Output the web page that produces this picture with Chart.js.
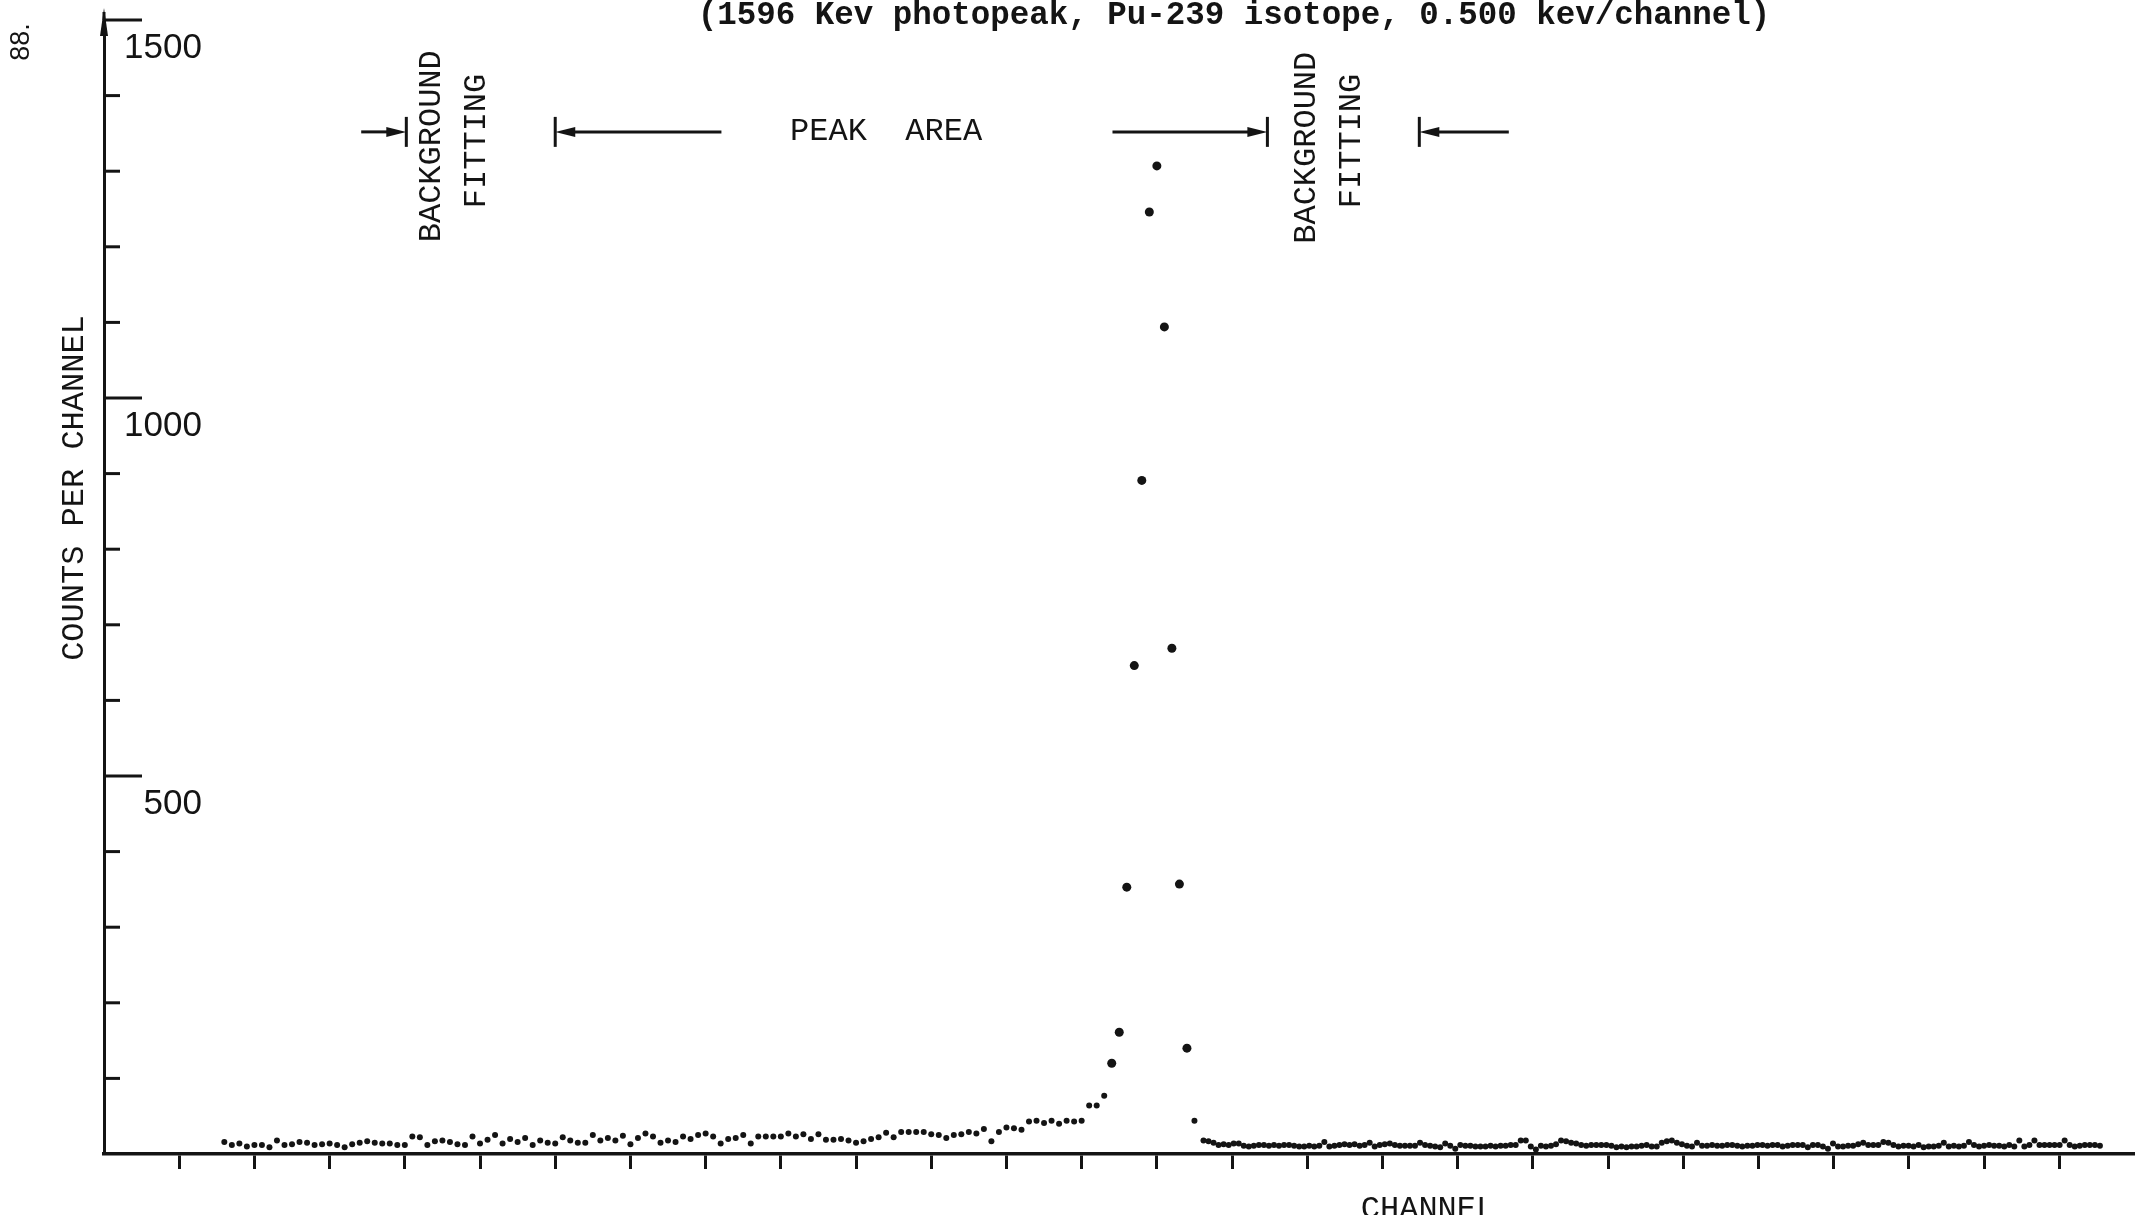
<!DOCTYPE html>
<html>
<head>
<meta charset="utf-8">
<script src="https://cdn.jsdelivr.net/npm/chart.js@4.4.1/dist/chart.umd.min.js"></script>
<style>
  html, body { margin: 0; padding: 0; background: #ffffff; overflow: hidden; }
  canvas { display: block; }
</style>
</head>
<body>
<canvas id="spectrum" width="2139" height="1215"></canvas>
<script>
// ---- Pu-239 1596 keV photopeak, counts per channel ----

// Channels 16..145, one point per channel (baseline and photopeak)
const lowFirstChannel = 16;
const lowCounts = [
  16, 12, 14, 10, 12, 12, 9, 18, 12, 13,
  16, 15, 12, 13, 14, 12, 9, 13, 15, 17,
  15, 14, 14, 12, 12, 23, 22, 12, 17, 18,
  16, 13, 12, 23, 14, 19, 25, 14, 20, 16,
  21, 12, 18, 15, 14, 22, 18, 15, 15, 25,
  18, 21, 18, 24, 13, 21, 27, 23, 15, 18,
  16, 23, 20, 25, 27, 23, 14, 20, 21, 25,
  14, 23, 23, 23, 23, 27, 23, 26, 20, 26,
  19, 19, 20, 18, 15, 17, 20, 22, 28, 22,
  29, 29, 29, 29, 26, 25, 21, 25, 26, 29,
  27, 33, 17, 29, 35, 34, 32, 43, 44, 41,
  44, 40, 44, 43, 44, 64, 64, 77, 120, 161,
  353, 646, 891, 1246, 1307, 1094, 669, 357, 140, 44
];

// Baseline beyond the peak, plotted at a tighter spacing
const highFirstChannel = 146.2;
const highLastChannel = 265.4;
const highCounts = [
  18, 17, 15, 12, 13, 12, 14, 14, 11, 10,
  11, 12, 12, 11, 12, 11, 12, 12, 11, 10,
  10, 11, 10, 11, 16, 10, 11, 12, 13, 12,
  13, 11, 12, 15, 10, 12, 13, 14, 12, 11,
  11, 11, 11, 15, 12, 11, 10, 9, 14, 11,
  7, 12, 11, 11, 10, 10, 10, 11, 10, 11,
  11, 12, 12, 18, 18, 10, 6, 11, 10, 11,
  13, 18, 17, 15, 14, 12, 11, 12, 12, 12,
  12, 11, 9, 10, 9, 10, 10, 11, 12, 10,
  10, 15, 17, 18, 15, 13, 11,
  10, 15, 11, 11, 12, 11, 11, 12, 12, 11,
  10, 11, 11, 12, 12, 11, 12, 12, 10, 11,
  12, 12, 12, 9, 12, 12, 10, 7, 14, 10,
  10, 11, 11, 13, 15, 12, 12, 12, 16, 15,
  12, 10, 11, 11, 10, 12, 9, 10, 10, 11,
  15, 10, 11, 10, 11, 16, 12, 10, 11, 12,
  11, 11, 10, 12, 10, 18, 10, 12, 18, 12,
  12, 12, 12, 12, 18, 12, 10, 11, 12, 12,
  12, 11
];

// Axis ticks and labels
const xTickValues = [10, 20, 30, 40, 50, 60, 70, 80, 90, 100, 110, 120, 130,
                     140, 150, 160, 170, 180, 190, 200, 210, 220, 230, 240, 250, 260];
const yTickValues = [100, 200, 300, 400, 500, 600, 700, 800, 900, 1000,
                     1100, 1200, 1300, 1400, 1500];
const yLabelValues = [500, 1000, 1500];

// Region markers (channel positions) and their labels
const markerLevel = 1352;
const regionBars = [40.2, 60, 154.7, 174.9];
const regionArrows = [
  { from: 34.2, to: 40.2 },   // background fitting, low side
  { from: 82.1, to: 60 },     // peak area, left end
  { from: 134.1, to: 154.7 }, // peak area, right end
  { from: 186.8, to: 174.9 }  // background fitting, high side
];
const verticalNotes = [
  { text: 'BACKGROUND', channel: 43.5, level: 1333 },
  { text: 'FITTING',    channel: 49.5, level: 1340 },
  { text: 'BACKGROUND', channel: 159.9, level: 1331 },
  { text: 'FITTING',    channel: 165.9, level: 1340 }
];
const peakNote = { text: 'PEAK  AREA', channel: 104, level: 1341 };

const titleText = '(1596 Kev photopeak, Pu-239 isotope, 0.500 kev/channel)';
const xTitle = 'CHANNEL';
const yTitle = 'COUNTS PER CHANNEL';
const pageNumber = '88.';

// ---- build points ----
const points = [];
lowCounts.forEach((v, i) => points.push({ x: lowFirstChannel + i, y: v }));
const highStep = (highLastChannel - highFirstChannel) / (highCounts.length - 1);
highCounts.forEach((v, i) => points.push({ x: highFirstChannel + i * highStep, y: v }));

const ink = '#141414';
const typeFont = '"Liberation Mono", "DejaVu Sans Mono", monospace';

function verticalText(ctx, text, cx, cy) {
  ctx.save();
  ctx.translate(cx, cy);
  ctx.rotate(-Math.PI / 2);
  ctx.textAlign = 'center';
  ctx.textBaseline = 'middle';
  ctx.fillText(text, 0, 0);
  ctx.restore();
}

function arrow(ctx, x1, x2, y) {
  const dir = Math.sign(x2 - x1);
  ctx.lineWidth = 3;
  ctx.beginPath();
  ctx.moveTo(x1, y);
  ctx.lineTo(x2 - dir * 14, y);
  ctx.stroke();
  ctx.beginPath();
  ctx.moveTo(x2, y);
  ctx.lineTo(x2 - dir * 20, y - 5);
  ctx.lineTo(x2 - dir * 20, y + 5);
  ctx.closePath();
  ctx.fill();
}

const annotations = {
  id: 'annotations',
  afterDraw(chart) {
    const { ctx, chartArea: area, scales: { x, y } } = chart;
    ctx.save();
    ctx.strokeStyle = ink;
    ctx.fillStyle = ink;
    ctx.lineCap = 'butt';

    // y axis: extension with arrow head, tick marks pointing inward
    ctx.lineWidth = 3;
    ctx.beginPath();
    ctx.moveTo(area.left, area.top);
    ctx.lineTo(area.left, area.top - 8);
    ctx.stroke();
    ctx.beginPath();
    ctx.moveTo(area.left, area.top - 12);
    ctx.lineTo(area.left - 4, area.top + 16);
    ctx.lineTo(area.left + 4, area.top + 16);
    ctx.closePath();
    ctx.fill();
    y.ticks.forEach(t => {
      const py = y.getPixelForValue(t.value);
      const len = yLabelValues.includes(t.value) ? 38 : 16;
      ctx.lineWidth = 3;
      ctx.beginPath();
      ctx.moveTo(area.left, py);
      ctx.lineTo(area.left + len, py);
      ctx.stroke();
    });

    // region markers
    const my = y.getPixelForValue(markerLevel);
    regionBars.forEach(c => {
      const px = x.getPixelForValue(c);
      ctx.lineWidth = 3;
      ctx.beginPath();
      ctx.moveTo(px, my - 15);
      ctx.lineTo(px, my + 15);
      ctx.stroke();
    });
    regionArrows.forEach(a => arrow(ctx, x.getPixelForValue(a.from), x.getPixelForValue(a.to), my));

    // typed labels
    ctx.font = `32px ${typeFont}`;
    verticalNotes.forEach(n => verticalText(ctx, n.text, x.getPixelForValue(n.channel), y.getPixelForValue(n.level)));
    ctx.textAlign = 'center';
    ctx.textBaseline = 'alphabetic';
    ctx.fillText(peakNote.text, x.getPixelForValue(peakNote.channel), y.getPixelForValue(peakNote.level));

    ctx.font = `bold 32.5px ${typeFont}`;
    ctx.fillText(titleText, 1234, 24);

    ctx.font = `32px ${typeFont}`;
    ctx.fillText(xTitle, 1428, 1218);
    verticalText(ctx, yTitle, 75, 488);

    ctx.font = '27px "Liberation Sans", sans-serif';
    verticalText(ctx, pageNumber, 22, 42);
    ctx.restore();
  }
};

new Chart(document.getElementById('spectrum'), {
  type: 'scatter',
  data: {
    datasets: [{
      data: points,
      backgroundColor: ink,
      borderWidth: 0,
      pointRadius: c => (c.raw && c.raw.y > 100 ? 4.5 : 3),
      pointHoverRadius: 0
    }]
  },
  options: {
    responsive: false,
    animation: false,
    events: [],
    layout: { padding: { left: 104, right: 0, top: 20, bottom: 46 } },
    plugins: { legend: { display: false }, tooltip: { enabled: false }, title: { display: false } },
    scales: {
      x: {
        type: 'linear',
        position: 'bottom',
        min: 0,
        max: 270,
        afterBuildTicks: s => { s.ticks = xTickValues.map(v => ({ value: v })); },
        afterFit: s => { s.height = 15; s.paddingLeft = 0; s.paddingRight = 0; },
        ticks: { display: false },
        grid: { display: true, drawOnChartArea: false, drawTicks: true, tickLength: 15, tickWidth: 3, tickColor: ink },
        border: { display: true, width: 3.5, color: ink }
      },
      y: {
        type: 'linear',
        position: 'left',
        min: 0,
        max: 1500,
        afterBuildTicks: s => { s.ticks = yTickValues.map(v => ({ value: v })); },
        afterFit: s => { s.width = 0; s.paddingTop = 0; s.paddingBottom = 0; },
        ticks: {
          mirror: true,
          crossAlign: 'far',
          padding: 20,
          labelOffset: 28,
          color: ink,
          font: { family: '"Liberation Sans", sans-serif', size: 35 },
          callback: v => (yLabelValues.includes(v) ? String(v) : '')
        },
        grid: { display: false, drawTicks: false },
        border: { display: true, width: 3, color: ink }
      }
    }
  },
  plugins: [annotations]
});
</script>
</body>
</html>
